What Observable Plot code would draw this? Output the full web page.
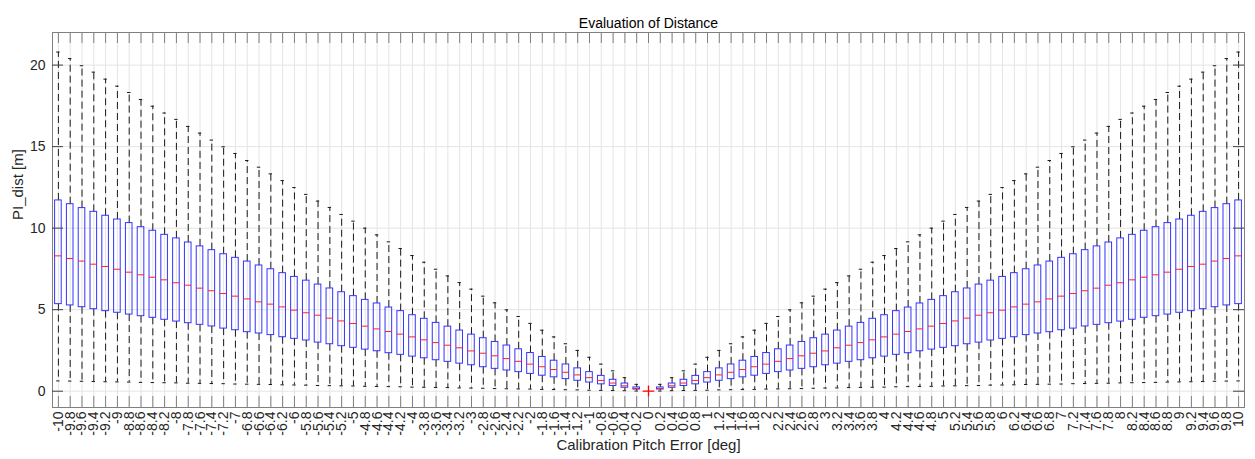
<!DOCTYPE html>
<html>
<head>
<meta charset="utf-8">
<script src="https://cdn.jsdelivr.net/npm/d3@7"></script>
<script src="https://cdn.jsdelivr.net/npm/@observablehq/plot@0.6"></script>
<style>
  html, body { margin: 0; padding: 0; background: #fff; }
</style>
</head>
<body>
<div id="chart"></div>
<script>
const pitchLabels = ["-10","-9.8","-9.6","-9.4","-9.2","-9","-8.8","-8.6","-8.4","-8.2","-8","-7.8","-7.6","-7.4","-7.2","-7","-6.8","-6.6","-6.4","-6.2","-6","-5.8","-5.6","-5.4","-5.2","-5","-4.8","-4.6","-4.4","-4.2","-4","-3.8","-3.6","-3.4","-3.2","-3","-2.8","-2.6","-2.4","-2.2","-2","-1.8","-1.6","-1.4","-1.2","-1","-0.8","-0.6","-0.4","-0.2","0","0.2","0.4","0.6","0.8","1","1.2","1.4","1.6","1.8","2","2.2","2.4","2.6","2.8","3","3.2","3.4","3.6","3.8","4","4.2","4.4","4.6","4.8","5","5.2","5.4","5.6","5.8","6","6.2","6.4","6.6","6.8","7","7.2","7.4","7.6","7.8","8","8.2","8.4","8.6","8.8","9","9.2","9.4","9.6","9.8","10"];

const whiskerHigh = [20.80,20.40,19.96,19.57,19.14,18.71,18.32,17.89,17.48,17.06,16.67,16.24,15.83,15.40,14.99,14.58,14.15,13.74,13.33,12.92,12.49,12.07,11.66,11.27,10.84,10.43,10.00,9.59,9.16,8.75,8.32,7.91,7.48,7.07,6.66,6.26,5.83,5.42,4.99,4.58,4.16,3.74,3.33,2.91,2.50,2.08,1.66,1.25,0.83,0.42,
  null,
  0.42,0.83,1.25,1.66,2.08,2.50,2.91,3.33,3.74,4.16,4.58,4.99,5.42,5.83,6.26,6.66,7.07,7.48,7.91,8.32,8.75,9.16,9.59,10.00,10.43,10.84,11.27,11.66,12.07,12.49,12.92,13.33,13.74,14.15,14.58,14.99,15.40,15.83,16.24,16.67,17.06,17.48,17.89,18.32,18.71,19.14,19.57,19.96,20.40,20.80];

const quartile3 = [11.70,11.47,11.23,11.00,10.76,10.53,10.31,10.06,9.84,9.59,9.37,9.12,8.88,8.65,8.40,8.18,7.95,7.71,7.48,7.24,7.01,6.78,6.54,6.30,6.07,5.83,5.60,5.38,5.13,4.91,4.66,4.44,4.19,3.96,3.72,3.47,3.25,3.02,2.80,2.57,2.34,2.10,1.87,1.64,1.40,1.17,0.94,0.70,0.47,0.23,
  null,
  0.23,0.47,0.70,0.94,1.17,1.40,1.64,1.87,2.10,2.34,2.57,2.80,3.02,3.25,3.47,3.72,3.96,4.19,4.44,4.66,4.91,5.13,5.38,5.60,5.83,6.07,6.30,6.54,6.78,7.01,7.24,7.48,7.71,7.95,8.18,8.40,8.65,8.88,9.12,9.37,9.59,9.84,10.06,10.31,10.53,10.76,11.00,11.23,11.47,11.70];

const medians = [8.30,8.14,7.98,7.79,7.65,7.48,7.30,7.14,6.99,6.83,6.65,6.50,6.32,6.16,5.99,5.83,5.66,5.48,5.34,5.17,4.97,4.81,4.66,4.48,4.31,4.15,3.99,3.82,3.66,3.50,3.33,3.15,2.98,2.82,2.66,2.47,2.33,2.17,2.00,1.83,1.66,1.50,1.33,1.16,1.00,0.83,0.66,0.50,0.33,0.17,
  null,
  0.17,0.33,0.50,0.66,0.83,1.00,1.16,1.33,1.50,1.66,1.83,2.00,2.17,2.33,2.47,2.66,2.82,2.98,3.15,3.33,3.50,3.66,3.82,3.99,4.15,4.31,4.48,4.66,4.81,4.97,5.17,5.34,5.48,5.66,5.83,5.99,6.16,6.32,6.50,6.65,6.83,6.99,7.14,7.30,7.48,7.65,7.79,7.98,8.14,8.30];

const quartile1 = [5.34,5.26,5.15,5.03,4.91,4.81,4.70,4.60,4.50,4.38,4.27,4.17,4.07,3.97,3.84,3.74,3.62,3.54,3.44,3.31,3.21,3.11,2.98,2.88,2.76,2.66,2.55,2.45,2.33,2.23,2.12,2.02,1.90,1.80,1.69,1.59,1.47,1.37,1.27,1.17,1.06,0.95,0.85,0.74,0.64,0.53,0.42,0.32,0.21,0.10,
  null,
  0.10,0.21,0.32,0.42,0.53,0.64,0.74,0.85,0.95,1.06,1.17,1.27,1.37,1.47,1.59,1.69,1.80,1.90,2.02,2.12,2.23,2.33,2.45,2.55,2.66,2.76,2.88,2.98,3.11,3.21,3.31,3.44,3.54,3.62,3.74,3.84,3.97,4.07,4.17,4.27,4.38,4.50,4.60,4.70,4.81,4.91,5.03,5.15,5.26,5.34];

const whiskerLow = [0.63,0.62,0.61,0.59,0.58,0.57,0.56,0.54,0.53,0.52,0.51,0.49,0.48,0.47,0.46,0.44,0.43,0.42,0.41,0.39,0.38,0.37,0.35,0.34,0.33,0.32,0.30,0.29,0.28,0.27,0.25,0.24,0.23,0.22,0.20,0.19,0.18,0.16,0.15,0.14,0.13,0.11,0.10,0.09,0.08,0.06,0.05,0.04,0.03,0.01,
  null,
  0.01,0.03,0.04,0.05,0.06,0.08,0.09,0.10,0.11,0.13,0.14,0.15,0.16,0.18,0.19,0.20,0.22,0.23,0.24,0.25,0.27,0.28,0.29,0.30,0.32,0.33,0.34,0.35,0.37,0.38,0.39,0.41,0.42,0.43,0.44,0.46,0.47,0.48,0.49,0.51,0.52,0.53,0.54,0.56,0.57,0.58,0.59,0.61,0.62,0.63];

const outlierLabels = ["0"];
const outlierValues = [0];

const yTickValues = [0, 5, 10, 15, 20];

const titleText = "Evaluation of Distance";
const xLabelText = "Calibration Pitch Error [deg]";
const yLabelText = "PI_dist [m]";

// ---- build table ----
const rows = pitchLabels.map((cat, i) => ({
  cat, lo: whiskerLow[i], q1: quartile1[i], med: medians[i], q3: quartile3[i], hi: whiskerHigh[i]
})).filter(d => d.med != null);
const outliers = outlierLabels.map((cat, i) => ({cat, v: outlierValues[i]}));

const W = 1255, H = 459;
const mL = 52, mR = 11, mT = 32, mB = 52;
const plotW = W - mL - mR, plotH = H - mT - mB;
const tickLen = 11;
const bandW = plotW / pitchLabels.length;
const boxInset = (bandW - 6.6) / 2;
const capInset = (bandW - 3.4) / 2;

const gridColor = "#e4e4e4";
const axisColor = "#808080";

const chart = Plot.plot({
  width: W,
  height: H,
  marginLeft: mL,
  marginRight: mR,
  marginTop: mT,
  marginBottom: mB,
  style: {fontFamily: "'Liberation Sans', Arial, Helvetica, sans-serif", fontSize: "14px", color: "#262626", background: "#fff"},
  x: {type: "band", domain: pitchLabels, padding: 0, round: false, tickRotate: -90, tickSize: 0, tickPadding: 4, label: null},
  y: {domain: [-1, 22], ticks: yTickValues, tickSize: 0, tickPadding: 7, label: null},
  marks: [
    // grid
    Plot.ruleX(pitchLabels, {x: d => d, stroke: gridColor}),
    Plot.ruleY(yTickValues, {y: d => d, stroke: gridColor}),
    // whiskers
    Plot.ruleX(rows, {x: "cat", y1: "q3", y2: "hi", stroke: "#1a1a1a", strokeDasharray: "7,4"}),
    Plot.ruleX(rows, {x: "cat", y1: "q1", y2: "lo", stroke: "#1a1a1a", strokeDasharray: "7,4"}),
    Plot.tickY(rows, {x: "cat", y: "hi", stroke: "#1a1a1a", insetLeft: capInset, insetRight: capInset}),
    Plot.tickY(rows, {x: "cat", y: "lo", stroke: "#1a1a1a", insetLeft: capInset, insetRight: capInset}),
    // boxes
    Plot.barY(rows, {x: "cat", y1: "q1", y2: "q3", fill: "none", stroke: "#3333ff", insetLeft: boxInset, insetRight: boxInset}),
    Plot.tickY(rows, {x: "cat", y: "med", stroke: "#ff2222", insetLeft: boxInset, insetRight: boxInset}),
    // outlier
    Plot.dot(outliers, {x: "cat", y: "v", symbol: "plus", r: 3.8, stroke: "#ff0000", strokeWidth: 1.3}),
    // frame and inward ticks
    Plot.frame({stroke: axisColor}),
    Plot.tickX(pitchLabels, {x: d => d, stroke: axisColor, insetTop: plotH - tickLen}),
    Plot.tickX(pitchLabels, {x: d => d, stroke: axisColor, insetBottom: plotH - tickLen}),
    Plot.tickY(yTickValues, {y: d => d, stroke: "#404040", insetRight: plotW - tickLen}),
    Plot.tickY(yTickValues, {y: d => d, stroke: "#404040", insetLeft: plotW - tickLen}),
    // texts
    Plot.text([titleText], {frameAnchor: "top", dy: -14, fontSize: 14, fill: "#000"}),
    Plot.text([xLabelText], {frameAnchor: "bottom", dy: 42, fontSize: 15, fill: "#262626"}),
    Plot.text([yLabelText], {frameAnchor: "left", dx: -34, rotate: -90, fontSize: 15, fill: "#262626"})
  ]
});
document.getElementById("chart").appendChild(chart);
</script>
</body>
</html>
